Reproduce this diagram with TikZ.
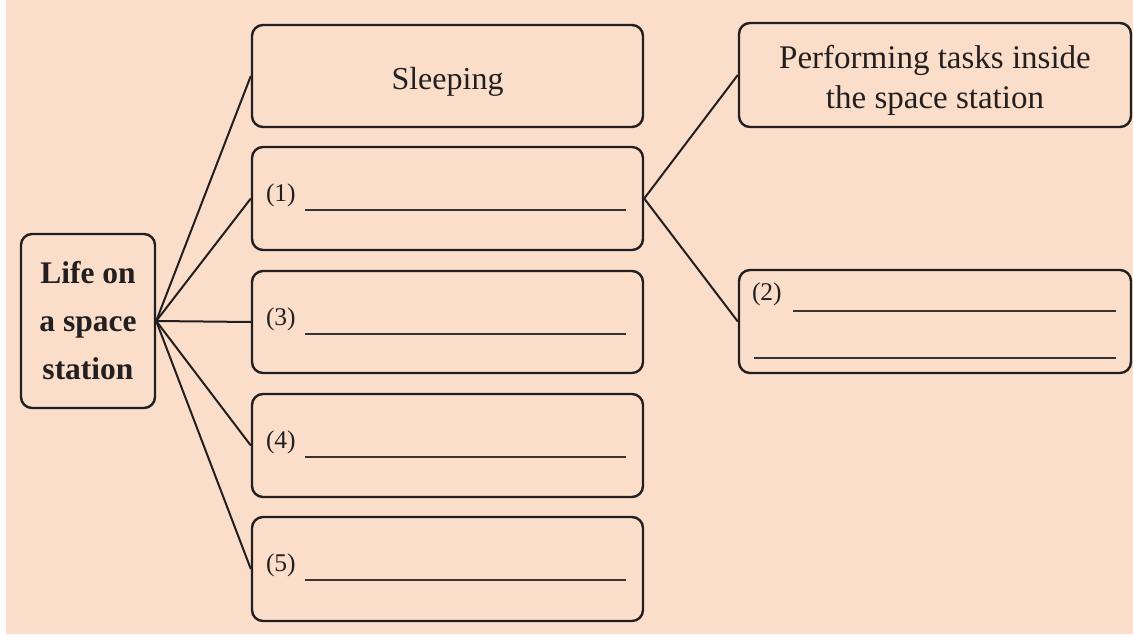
\documentclass[tikz,border=0pt]{standalone}
\usepackage{fontspec}
\setmainfont{Liberation Serif}
\usetikzlibrary{calc}
\definecolor{peach}{RGB}{250,222,202}
\definecolor{ink}{RGB}{35,31,32}
\definecolor{blankc}{RGB}{55,51,51}
\tikzset{
  box/.style={draw=ink, line width=2.4pt, rounded corners=11pt, inner sep=0pt, text=ink, align=center},
  boxtext/.style={inner sep=0pt, text=ink, align=center},
  conn/.style={draw=ink, line width=2pt},
  lab/.style={inner sep=0pt, text=ink, font=\fontsize{25.5}{30}\selectfont},
  blank/.style={draw=blankc, line width=1.5pt},
}
\begin{document}
\begin{tikzpicture}[x=1pt,y=-1pt]
\useasboundingbox (0,0) rectangle (1133,637);
\fill[peach] (6,0) rectangle (1133,634);
% hub
\node[box, minimum width=134pt, minimum height=174pt, font=\bfseries\fontsize{31.5}{48}\selectfont] (life) at (88,321) {Life on\\a space\\station};
% middle column
\node[box, minimum width=391pt, minimum height=102pt] (sleep) at (447.5,76) {};
\node[boxtext, font=\fontsize{32}{40}\selectfont] (sleept) at (447.5,82) {Sleeping};
\node[box, minimum width=391pt, minimum height=103pt] (b1) at (447.5,198.5) {};
\node[box, minimum width=391pt, minimum height=102pt] (b3) at (447.5,322) {};
\node[box, minimum width=391pt, minimum height=103pt] (b4) at (447.5,445.5) {};
\node[box, minimum width=391pt, minimum height=104pt] (b5) at (447.5,569) {};
% right column
\node[box, minimum width=392pt, minimum height=104pt] (perf) at (935,75) {};
\node[boxtext, font=\fontsize{33}{40}\selectfont] (perft) at (935,80) {Performing tasks inside\\the space station};
\node[box, minimum width=392pt, minimum height=103pt] (b2) at (935,321.5) {};
% connectors
\foreach \t in {sleep,b1,b3,b4,b5} \draw[conn] (life.east) -- (\t.west);
\draw[conn] (b1.east) -- (perf.west);
\draw[conn] (b1.east) -- (b2.west);
% labels with blanks
\foreach \b/\n in {b1/1,b3/3,b4/4,b5/5}{
  \node[lab, anchor=base west] (l\n) at ($(\b.north west)+(15,56)$) {(\n)};
  \draw[blank] ($(\b.north west)+(54,64)$) -- ($(\b.north west)+(375,64)$);
}
\node[lab, anchor=base west] (l2) at ($(b2.north west)+(14,32)$) {(2)};
\draw[blank] ($(b2.north west)+(55,42)$) -- ($(b2.north west)+(378,42)$);
\draw[blank] ($(b2.north west)+(16,89)$) -- ($(b2.north west)+(378,89)$);
\end{tikzpicture}
\end{document}
